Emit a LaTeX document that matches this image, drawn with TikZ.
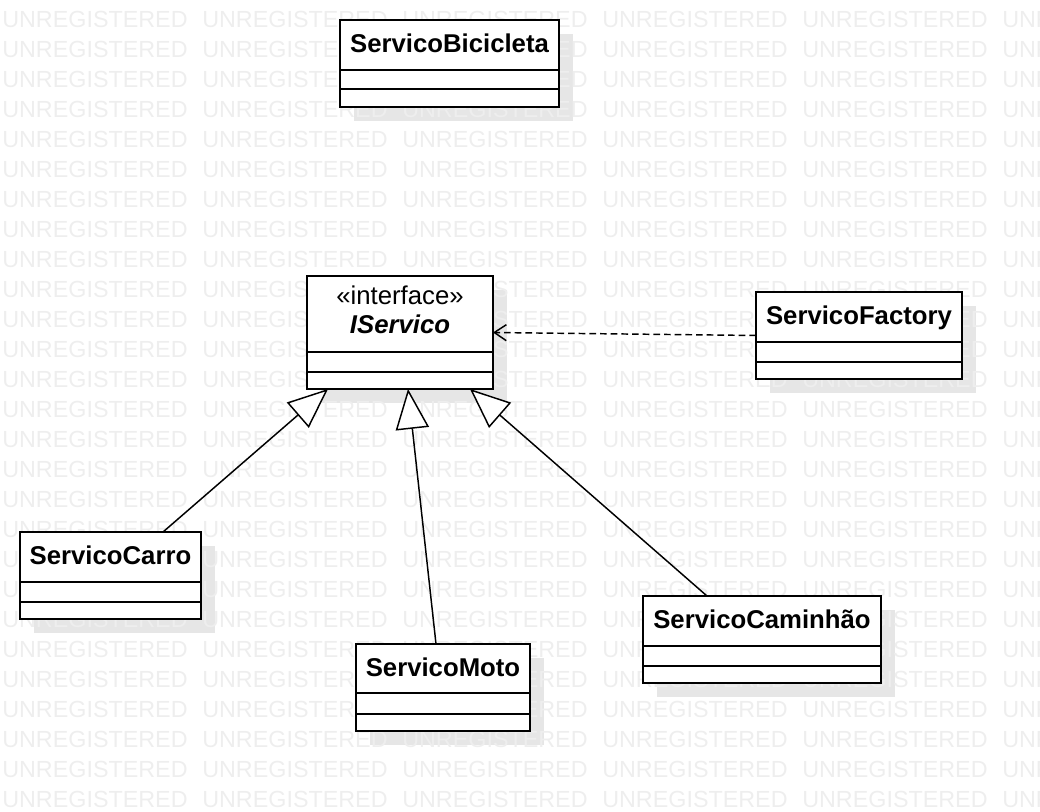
\documentclass[tikz,border=0pt]{standalone}
\usepackage{fontspec}
\setmainfont{Liberation Sans}
\usetikzlibrary{arrows.meta,calc}
\definecolor{wm}{HTML}{EEEEEE}
\definecolor{shadowc}{HTML}{E6E6E6}
\pgfdeclarelayer{shadowlayer}
\pgfdeclarelayer{wmlayer}
\pgfsetlayers{shadowlayer,wmlayer,main}
\tikzset{
  classbox/.style={draw=black, line width=1.5pt, fill=white, inner sep=0pt, outer sep=0pt, anchor=north west},
  comp/.style={draw=black, line width=1.5pt},
  cname/.style={font=\bfseries\fontsize{19.3}{22}\selectfont, anchor=base, inner sep=0pt},
  wmtext/.style={text=wm, font=\fontsize{17.5}{20}\selectfont, anchor=base west, inner sep=0pt},
  gen/.style={line width=1.1pt, -{Triangle[open, fill=white, length=30pt, width=25pt]}},
  dep/.style={line width=1.1pt, dash pattern=on 5pt off 3pt, -{Straight Barb[length=9pt, width=12pt]}},
}
% #1 name, #2 x1, #3 y1, #4 x2, #5 y2, #6 first line, #7 second line
\newcommand\umlclass[7]{%
  \begin{pgfonlayer}{shadowlayer}
    \fill[shadowc] (#2+14,#3+14) rectangle (#4+14,#5+14);
  \end{pgfonlayer}
  \node[classbox, minimum width={(#4-#2)*0.75pt}, minimum height={(#5-#3)*0.75pt}] (#1) at (#2,#3) {};
  \draw[comp] (#2,#6) -- (#4,#6);
  \draw[comp] (#2,#7) -- (#4,#7);
}
\begin{document}
\begin{tikzpicture}[x=0.75pt, y=-0.75pt]
\useasboundingbox (0,0) rectangle (1040,812);
\begin{scope}
\clip (0,0) rectangle (1040,812);
\begin{pgfonlayer}{wmlayer}
\foreach \r in {0,...,27} {
  \foreach \c in {0,...,5} {
    \node[wmtext] (wm-\r-\c) at ({2+200*\c}, {-2+30*\r}) {UNREGISTERED};
  }
}
\end{pgfonlayer}
\end{scope}

\umlclass{bici}{340}{20}{559}{107}{70}{89}
\node[cname] (bici-name) at ({(340+559)/2}, 53) {ServicoBicicleta};

\umlclass{iserv}{307}{276}{493}{389}{352}{372}
\node[font=\fontsize{19.3}{22}\selectfont, anchor=base, inner sep=0pt] (iserv-st) at ({(307+493)/2}, 305) {«interface»};
\node[font=\bfseries\itshape\fontsize{19.3}{22}\selectfont, anchor=base, inner sep=0pt] (iserv-name) at ({(307+493)/2}, 334) {IServico};

\umlclass{fact}{756}{292}{962}{379}{342}{362}
\node[cname] (fact-name) at ({(756+962)/2}, 325) {ServicoFactory};

\umlclass{carro}{20}{532}{201}{619}{582}{602}
\node[cname] (carro-name) at ({(20+201)/2}, 565) {ServicoCarro};

\umlclass{moto}{356}{644}{530}{731}{693}{714}
\node[cname] (moto-name) at ({(356+530)/2}, 677) {ServicoMoto};

\umlclass{cam}{643}{596}{881}{683}{646}{666}
\node[cname] (cam-name) at ({(643+881)/2}, 629) {ServicoCaminhão};

% realizations
\draw[gen] ($(carro.north west)+(143,0)$) -- ($(iserv.south west)+(21,0)$);
\draw[gen] ($(moto.north west)+(80,0)$) -- ($(iserv.south west)+(101,0)$);
\draw[gen] ($(cam.north west)+(64,0)$) -- ($(iserv.south west)+(163,0)$);
% dependency
\draw[dep] (fact.west) -- (iserv.east);
\end{tikzpicture}
\end{document}
